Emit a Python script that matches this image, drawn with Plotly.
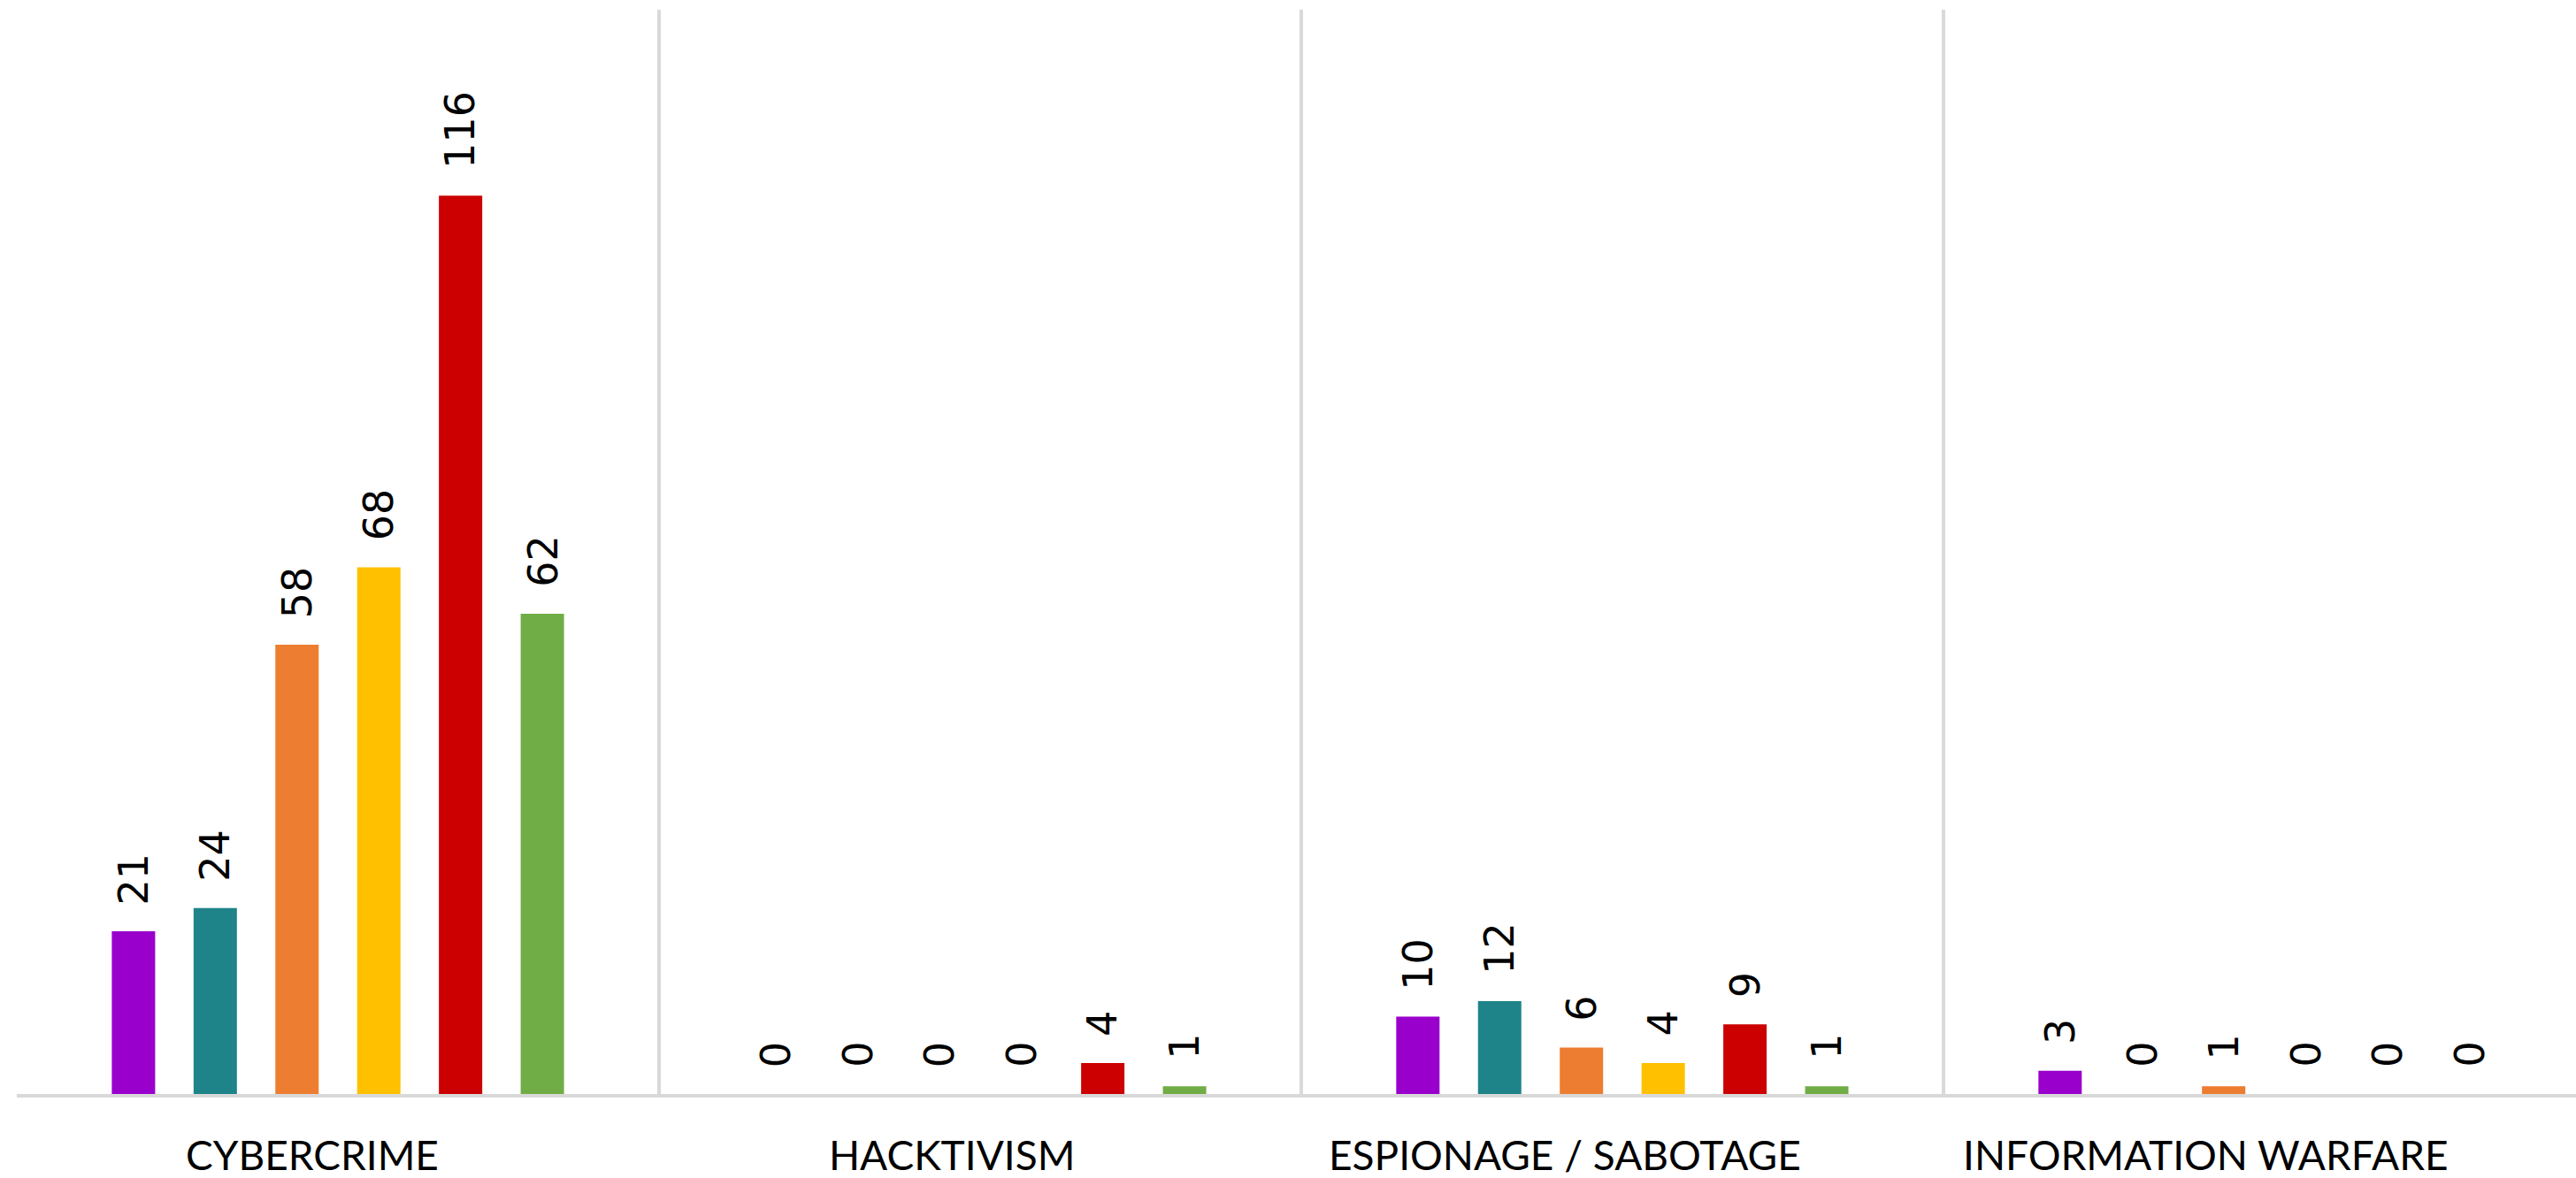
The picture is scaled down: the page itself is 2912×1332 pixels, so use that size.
import plotly.graph_objects as go

# Incident categories and per-series counts
categories = ["CYBERCRIME", "HACKTIVISM", "ESPIONAGE / SABOTAGE", "INFORMATION WARFARE"]
series_names = ["S1", "S2", "S3", "S4", "S5", "S6"]
series_colors = ["#9900CC", "#1E8489", "#ED7D31", "#FFC000", "#CC0000", "#70AD47"]
values = [
    [21, 0, 10, 3],
    [24, 0, 12, 0],
    [58, 0, 6, 1],
    [68, 0, 4, 0],
    [116, 4, 9, 0],
    [62, 1, 1, 0],
]

W, H = 2912, 1332
BARGAP = 0.236
n_series = len(series_names)
slot = (1 - BARGAP) / n_series

fig = go.Figure()
for name, color, vals in zip(series_names, series_colors, values):
    fig.add_trace(go.Bar(
        x=categories, y=vals, name=name,
        marker=dict(color=color, line=dict(width=0)),
        hoverinfo="x+y",
    ))

annotations = []
# Rotated value labels above each bar
for si, vals in enumerate(values):
    for ci, v in enumerate(vals):
        annotations.append(dict(
            x=ci + (si - (n_series - 1) / 2) * slot, y=v,
            xref="x", yref="y",
            text=str(v), showarrow=False, textangle=-90,
            xanchor="center", yanchor="bottom", yshift=28,
            font=dict(family="DejaVu Sans", size=46, color="#000000"),
        ))

# Category names under the baseline
label_offsets = [-0.040, -0.044, -0.090, -0.091]
for ci, (cat, off) in enumerate(zip(categories, label_offsets)):
    annotations.append(dict(
        x=ci + off, y=1305, xref="x", yref="paper",
        text=cat, showarrow=False, xanchor="center", yanchor="middle",
        font=dict(family="Lato, Noto Sans, sans-serif", size=46, color="#000000"),
    ))

# y=1305 px from top is converted to paper coordinates below
t_m, b_m = 11, 95
plot_h = H - t_m - b_m
for a in annotations:
    if a["yref"] == "paper":
        a["y"] = (H - b_m - a["y"]) / plot_h

fig.update_layout(
    width=W, height=H,
    margin=dict(l=19, r=0, t=t_m, b=b_m, pad=0),
    paper_bgcolor="#FFFFFF", plot_bgcolor="#FFFFFF",
    barmode="group", bargap=BARGAP, bargroupgap=0.47,
    showlegend=False,
    annotations=annotations,
    xaxis=dict(
        type="category", range=[-0.5, 3.485],
        tickson="boundaries", showgrid=True, gridcolor="#D9D9D9", gridwidth=4,
        showline=True, linecolor="#D9D9D9", linewidth=4,
        showticklabels=False, ticks="", zeroline=False,
    ),
    yaxis=dict(
        range=[0, 140], showgrid=False, zeroline=False,
        showticklabels=False, ticks="", showline=False,
    ),
)

fig.write_html("out.html")
